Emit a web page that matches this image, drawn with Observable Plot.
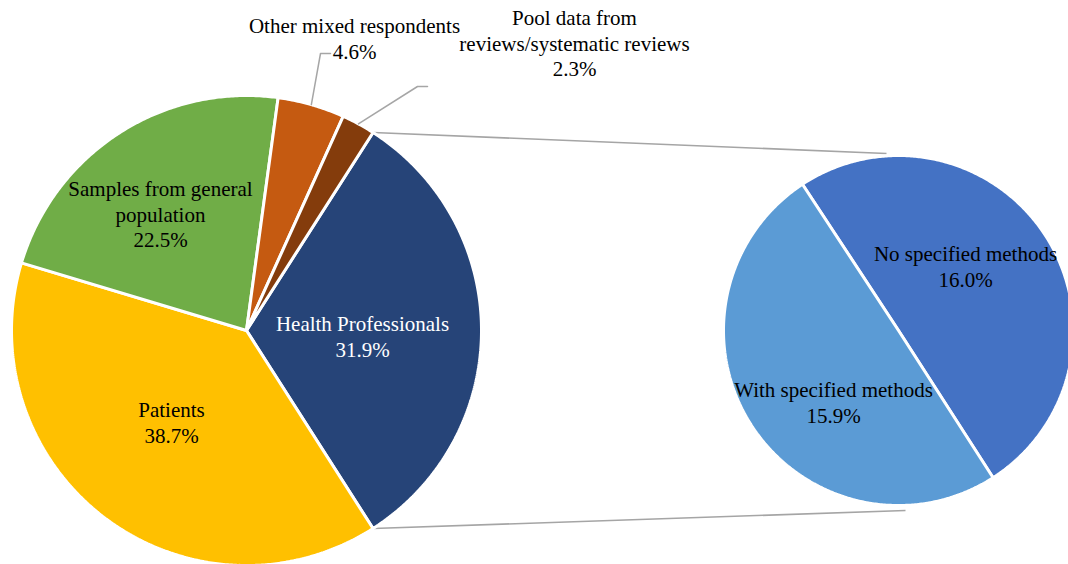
<!DOCTYPE html>
<html><head><meta charset="utf-8">
<script src="https://cdn.jsdelivr.net/npm/d3@7"></script>
<script src="https://cdn.jsdelivr.net/npm/@observablehq/plot@0.6"></script>
<style>body{margin:0;background:#fff}#chart{width:1068px;height:564px;overflow:hidden}
#chart svg text{font-family:"Liberation Serif","Times New Roman",serif}</style>
</head><body><div id="chart"></div>
<script>
// ---- data ----
const mainLabels = ["Health Professionals", "Patients", "Samples from general population", "Other mixed respondents", "Pool data from reviews/systematic reviews"];
const mainText = ["Health Professionals\n31.9%", "Patients\n38.7%", "Samples from general\npopulation\n22.5%", "Other mixed respondents\n4.6%", "Pool data from\nreviews/systematic reviews\n2.3%"];
const mainValues = [31.9, 38.7, 22.5, 4.6, 2.3];
const mainColors = ["#264478", "#FFC000", "#70AD47", "#C55A11", "#843C0C"];
const mainTextColors = ["#ffffff", "#000000", "#000000", "#000000", "#000000"];

const subLabels = ["No specified methods", "With specified methods"];
const subText = ["No specified methods\n16.0%", "With specified methods\n15.9%"];
const subValues = [16.0, 15.9];
const subColors = ["#4472C4", "#5B9BD5"];

// ---- layout ----
const W = 1068, H = 564;
const P1 = {x: 246, y: 330, r: 235};
const P2 = {x: 898, y: 330, r: 175};
const labelPos = [[362, 335], [171, 421], [160, 213], [354, 37], [574, 42]];
const subLabelPos = [[965, 265], [833, 401]];
const leaderElbows = {3: [[320, 53], [330, 53]], 4: [[417, 86], [427, 86]]};
const deg = Math.PI / 180;

const total = d3.sum(mainValues);
const startMain = Math.PI / 2 - (mainValues[0] / total) * Math.PI;
const mainArcs = d3.pie().sort(null).startAngle(startMain).endAngle(startMain + 2 * Math.PI)(mainValues);
const subStart = -33.3 * deg;
const subArcs = d3.pie().sort(null).startAngle(subStart).endAngle(subStart + 2 * Math.PI)(subValues);

const pt = (c, a, rr = c.r) => ({x: c.x + rr * Math.sin(a), y: c.y - rr * Math.cos(a)});

function slicePoly(c, arc, key, color) {
  const pts = [{...pt(c, 0, 0), key, color}];
  const n = Math.max(2, Math.ceil((arc.endAngle - arc.startAngle) / (0.5 * deg)));
  for (let i = 0; i <= n; i++) {
    const a = arc.startAngle + (arc.endAngle - arc.startAngle) * i / n;
    pts.push({...pt(c, a), key, color});
  }
  return pts;
}

const polys = [];
mainArcs.forEach((a, i) => polys.push(...slicePoly(P1, a, "m" + i, mainColors[i])));
subArcs.forEach((a, i) => polys.push(...slicePoly(P2, a, "s" + i, subColors[i])));

const labels = [
  ...mainText.map((t, i) => ({x: labelPos[i][0], y: labelPos[i][1], text: t, color: mainTextColors[i]})),
  ...subText.map((t, i) => ({x: subLabelPos[i][0], y: subLabelPos[i][1], text: t, color: "#000000"}))
];

// leader lines for small slices
const leaders = [];
[3, 4].forEach(i => {
  const a = mainArcs[i];
  const p = pt(P1, (a.startAngle + a.endAngle) / 2);
  leaders.push({x: p.x, y: p.y, k: i});
  leaderElbows[i].forEach(e => leaders.push({x: e[0], y: e[1], k: i}));
});

// connectors from split slice to second pie
const hp = mainArcs[0];
const cTop = pt(P1, hp.startAngle), cBot = pt(P1, hp.endAngle);
const connectors = [
  {x1: cTop.x, y1: cTop.y, x2: P2.x - 12, y2: P2.y - P2.r - 2},
  {x1: cBot.x, y1: cBot.y, x2: P2.x + 7, y2: P2.y + P2.r + 5}
];

const chart = Plot.plot({
  width: W, height: H, margin: 0,
  x: {domain: [0, W], range: [0, W], axis: null},
  y: {domain: [0, H], range: [0, H], axis: null},
  color: {type: "identity"},
  style: {background: "#ffffff", overflow: "hidden", fontFamily: "'Liberation Serif', 'Times New Roman', serif"},
  marks: [
    Plot.link(connectors, {x1: "x1", y1: "y1", x2: "x2", y2: "y2", stroke: "#A5A5A5", strokeWidth: 1.6}),
    Plot.line(polys, {x: "x", y: "y", z: "key", fill: "color", stroke: "#ffffff", strokeWidth: 3, curve: "linear-closed", strokeLinejoin: "miter"}),
    Plot.line(leaders, {x: "x", y: "y", z: "k", stroke: "#A6A6A6", strokeWidth: 1.5}),
    Plot.text(labels, {x: "x", y: "y", text: "text", fill: "color", fontSize: 21, fontFamily: "'Liberation Serif', 'Times New Roman', serif", lineHeight: 1.22, textAnchor: "middle"})
  ]
});
document.getElementById("chart").appendChild(chart);
</script>
</body></html>
